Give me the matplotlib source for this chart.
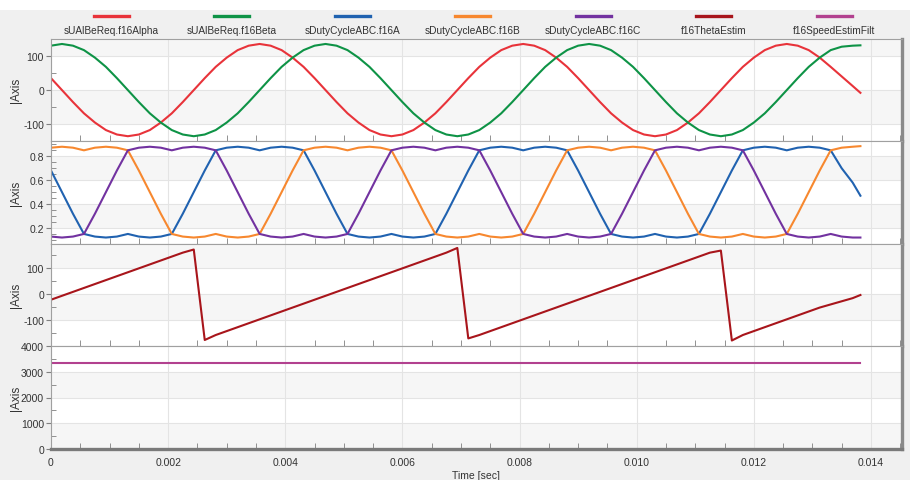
import matplotlib
matplotlib.use("Agg")
import matplotlib.pyplot as plt
import numpy as np
from matplotlib.lines import Line2D
from matplotlib.patches import Rectangle
from matplotlib.ticker import FuncFormatter, MultipleLocator

plt.rcParams["font.family"] = ["Liberation Sans", "DejaVu Sans"]
plt.rcParams["axes.unicode_minus"] = False

# recorder samples, time in ms
time_ms = [
    0.0, 0.1875, 0.375, 0.5625, 0.75, 0.9375, 1.125, 1.3125, 1.5, 1.6875,
    1.875, 2.0625, 2.25, 2.4375, 2.625, 2.8125, 3.0, 3.1875, 3.375, 3.5625,
    3.75, 3.9375, 4.125, 4.3125, 4.5, 4.6875, 4.875, 5.0625, 5.25, 5.4375,
    5.625, 5.8125, 6.0, 6.1875, 6.375, 6.5625, 6.75, 6.9375, 7.125, 7.3125,
    7.5, 7.6875, 7.875, 8.0625, 8.25, 8.4375, 8.625, 8.8125, 9.0, 9.1875,
    9.375, 9.5625, 9.75, 9.9375, 10.125, 10.3125, 10.5, 10.6875, 10.875, 11.0625,
    11.25, 11.4375, 11.625, 11.8125, 12.0, 12.1875, 12.375, 12.5625, 12.75, 12.9375,
    13.125, 13.3125, 13.5, 13.6875, 13.82,
]

u_alpha = [
    35, 0, -35, -68, -95, -117, -130, -135, -130, -117, -95, -68,
    -35, 0, 35, 68, 95, 117, 130, 135, 130, 117, 95, 68,
    35, 0, -35, -68, -95, -117, -130, -135, -130, -117, -95, -68,
    -35, 0, 35, 68, 95, 117, 130, 135, 130, 117, 95, 68,
    35, 0, -35, -68, -95, -117, -130, -135, -130, -117, -95, -68,
    -35, 0, 35, 68, 95, 117, 130, 135, 130, 117, 95, 68,
    40, 12, -8,
]
u_beta = [
    130, 135, 130, 117, 95, 68, 35, 0, -35, -68, -95, -117,
    -130, -135, -130, -117, -95, -68, -35, 0, 35, 68, 95, 117,
    130, 135, 130, 117, 95, 68, 35, 0, -35, -68, -95, -117,
    -130, -135, -130, -117, -95, -68, -35, 0, 35, 68, 95, 117,
    130, 135, 130, 117, 95, 68, 35, 0, -35, -68, -95, -117,
    -130, -135, -130, -117, -95, -68, -35, 0, 35, 68, 95, 117,
    127, 130, 131,
]
duty_a = [
    0.681, 0.500, 0.319, 0.150, 0.128, 0.120, 0.128, 0.150, 0.128, 0.120, 0.128, 0.150,
    0.319, 0.500, 0.681, 0.850, 0.872, 0.880, 0.872, 0.850, 0.872, 0.880, 0.872, 0.850,
    0.681, 0.500, 0.319, 0.150, 0.128, 0.120, 0.128, 0.150, 0.128, 0.120, 0.128, 0.150,
    0.319, 0.500, 0.681, 0.850, 0.872, 0.880, 0.872, 0.850, 0.872, 0.880, 0.872, 0.850,
    0.681, 0.500, 0.319, 0.150, 0.128, 0.120, 0.128, 0.150, 0.128, 0.120, 0.128, 0.150,
    0.319, 0.500, 0.681, 0.850, 0.872, 0.880, 0.872, 0.850, 0.872, 0.880, 0.872, 0.850,
    0.700, 0.580, 0.470,
]
duty_b = [
    0.872, 0.880, 0.872, 0.850, 0.872, 0.880, 0.872, 0.850, 0.681, 0.500, 0.319, 0.150,
    0.128, 0.120, 0.128, 0.150, 0.128, 0.120, 0.128, 0.150, 0.319, 0.500, 0.681, 0.850,
    0.872, 0.880, 0.872, 0.850, 0.872, 0.880, 0.872, 0.850, 0.681, 0.500, 0.319, 0.150,
    0.128, 0.120, 0.128, 0.150, 0.128, 0.120, 0.128, 0.150, 0.319, 0.500, 0.681, 0.850,
    0.872, 0.880, 0.872, 0.850, 0.872, 0.880, 0.872, 0.850, 0.681, 0.500, 0.319, 0.150,
    0.128, 0.120, 0.128, 0.150, 0.128, 0.120, 0.128, 0.150, 0.319, 0.500, 0.681, 0.850,
    0.872, 0.880, 0.885,
]
duty_c = [
    0.128, 0.120, 0.128, 0.150, 0.319, 0.500, 0.681, 0.850, 0.872, 0.880, 0.872, 0.850,
    0.872, 0.880, 0.872, 0.850, 0.681, 0.500, 0.319, 0.150, 0.128, 0.120, 0.128, 0.150,
    0.128, 0.120, 0.128, 0.150, 0.319, 0.500, 0.681, 0.850, 0.872, 0.880, 0.872, 0.850,
    0.872, 0.880, 0.872, 0.850, 0.681, 0.500, 0.319, 0.150, 0.128, 0.120, 0.128, 0.150,
    0.128, 0.120, 0.128, 0.150, 0.319, 0.500, 0.681, 0.850, 0.872, 0.880, 0.872, 0.850,
    0.872, 0.880, 0.872, 0.850, 0.681, 0.500, 0.319, 0.150, 0.128, 0.120, 0.128, 0.150,
    0.128, 0.120, 0.120,
]
theta_estim = [
    -22, -7, 8, 23, 38, 53, 68, 83, 98, 113, 128, 143,
    158, 170, -176, -157, -142, -127, -112, -97, -82, -67, -52, -37,
    -22, -7, 8, 23, 38, 53, 68, 83, 98, 113, 128, 143,
    158, 176, -170, -157, -142, -127, -112, -97, -82, -67, -52, -37,
    -22, -7, 8, 23, 38, 53, 68, 83, 98, 113, 128, 143,
    158, 166, -178, -157, -142, -127, -112, -97, -82, -67, -52, -40,
    -28, -16, -4,
]
speed_time_ms = [0.0, 13.82]
speed_estim = [3330, 3330]

names = ["sUAlBeReq.f16Alpha", "sUAlBeReq.f16Beta", "sDutyCycleABC.f16A",
         "sDutyCycleABC.f16B", "sDutyCycleABC.f16C", "f16ThetaEstim",
         "f16SpeedEstimFilt"]
colors = ["#e8333a", "#0e9346", "#2062b0", "#f7882f", "#7232a0", "#a8151b", "#b2418f"]

W, H = 910, 481
fig = plt.figure(figsize=(W / 100, H / 100), dpi=100, facecolor="#f0f0f0")
fig.add_artist(Rectangle((0, 1 - 11 / H), 1, 11 / H, transform=fig.transFigure,
                         facecolor="white", edgecolor="none", zorder=0))

edges = [39.5, 142, 244.5, 347, 450]
axes = []
for i in range(4):
    top, bot = edges[i], edges[i + 1]
    axes.append(fig.add_axes([51 / W, 1 - bot / H, 851 / W, (bot - top) / H]))


def style(ax, ylim, major, minor, bands, last=False):
    ax.set_facecolor("white")
    ax.set_xlim(0, 0.01453)
    ax.set_ylim(*ylim)
    for lo, hi in bands:
        ax.axhspan(lo, hi, facecolor="#f6f6f6", edgecolor="none", zorder=0)
    ax.set_yticks(major)
    ax.yaxis.set_minor_locator(MultipleLocator(minor))
    ax.xaxis.set_major_locator(MultipleLocator(0.002))
    ax.xaxis.set_minor_locator(MultipleLocator(0.0005))
    ax.xaxis.set_major_formatter(FuncFormatter(lambda v, p: "0" if abs(v) < 1e-9 else f"{v:.3f}"))
    ax.set_axisbelow(True)
    ax.grid(True, which="major", color="#e4e4e4", lw=0.8)
    ax.tick_params(axis="y", which="major", direction="out", length=3.6, pad=1.5,
                   labelsize=7.5, colors="#333333")
    ax.tick_params(axis="y", which="major", color="#808080")
    ax.tick_params(axis="y", which="minor", direction="in", length=3.6, color="#808080")
    ax.tick_params(axis="x", which="major", length=0, pad=6, labelsize=7.5,
                   labelcolor="#333333", labelbottom=last)
    ax.tick_params(axis="x", which="minor", direction="in", length=4.3, color="#808080")
    for side in ("left", "top", "bottom"):
        ax.spines[side].set_color("#a0a0a0")
        ax.spines[side].set_linewidth(0.8)
    ax.spines["right"].set_color("#8a8a8a")
    ax.spines["right"].set_linewidth(2.4)
    if last:
        ax.spines["bottom"].set_color("#7a7a7a")
        ax.spines["bottom"].set_linewidth(2.4)


t = np.array(time_ms) / 1000.0
ts = np.array(speed_time_ms) / 1000.0

ax1, ax2, ax3, ax4 = axes
style(ax1, (-149, 151), [-100, 0, 100], 50, [(100, 151), (-100, 0)])
ax1.plot(t, u_alpha, color=colors[0], lw=1.5)
ax1.plot(t, u_beta, color=colors[1], lw=1.5)

style(ax2, (0.07, 0.928), [0.2, 0.4, 0.6, 0.8], 0.05, [(0.6, 0.8), (0.2, 0.4)])
ax2.plot(t, duty_a, color=colors[2], lw=1.5)
ax2.plot(t, duty_b, color=colors[3], lw=1.5)
ax2.plot(t, duty_c, color=colors[4], lw=1.5)

style(ax3, (-199, 193), [-100, 0, 100], 50, [(100, 193), (-100, 0)])
ax3.plot(t, theta_estim, color=colors[5], lw=1.5)

style(ax4, (0, 4000), [0, 1000, 2000, 3000, 4000], 500, [(2000, 3000), (0, 1000)], last=True)
ax4.plot(ts, speed_estim, color=colors[6], lw=1.5)

for i in range(4):
    yc = (edges[i] + edges[i + 1]) / 2
    fig.text(16 / W, 1 - yc / H, "|Axis", rotation=90, ha="center", va="center",
             fontsize=8.5, color="#333333")

fig.text(476.5 / W, 1 - 476 / H, "Time [sec]", ha="center", va="center",
         fontsize=7.5, color="#333333")

# legend row spread evenly across the plot width
for i, (name, c) in enumerate(zip(names, colors)):
    cx = 111.3 + 120.5 * i
    fig.add_artist(Line2D([(cx - 17.5) / W, (cx + 17.5) / W], [1 - 17 / H] * 2,
                          transform=fig.transFigure, color=c, lw=2.4))
    fig.text(cx / W, 1 - 31 / H, name, ha="center", va="center", fontsize=7.3,
             color="#333333")

fig.savefig("out.png", dpi=100, facecolor=fig.get_facecolor())
